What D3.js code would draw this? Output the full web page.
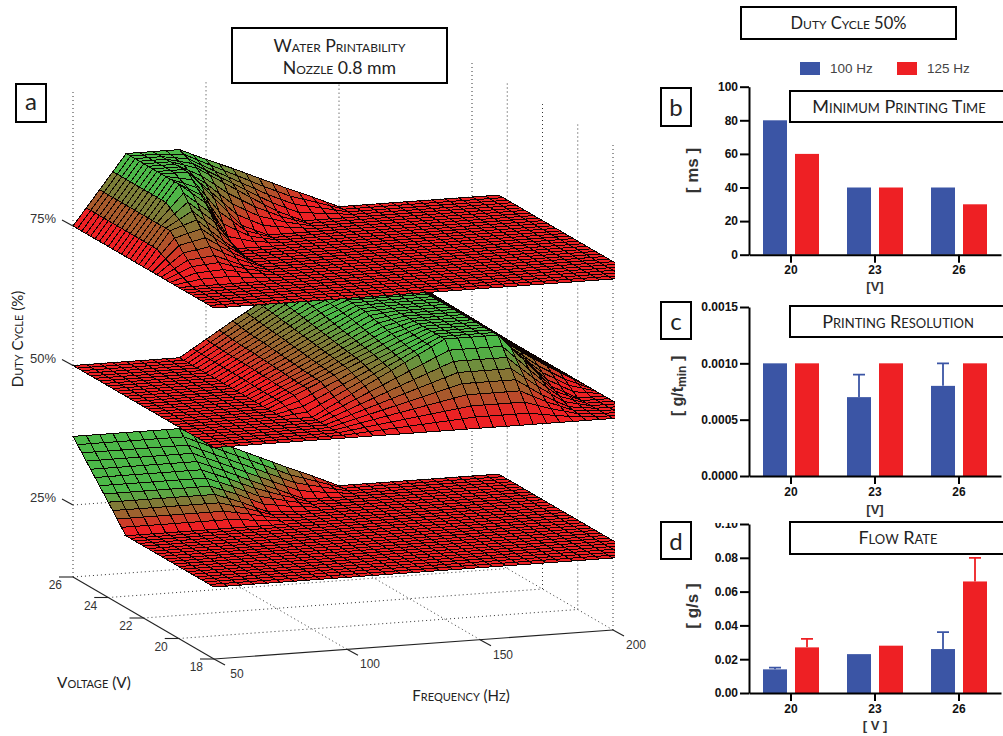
<!DOCTYPE html>
<html lang="en">
<head>
<meta charset="utf-8">
<title>Water Printability</title>
<script src="https://d3js.org/d3.v7.min.js"></script>
<style>
  body { margin: 0; background: #fff; }
  .caps { font-family: Lato, sans-serif; font-variant: small-caps; fill: #222; }
  .num3d { font-family: "Liberation Sans", sans-serif; font-size: 12px; fill: #333; }
  .bar-axis text { font-family: "Liberation Sans", sans-serif; font-size: 12px; font-weight: bold; fill: #111; }
  .unit { font-family: "Liberation Sans", sans-serif; font-weight: bold; fill: #333; }
</style>
</head>
<body>
<div id="vis"></div>
<script>
// surface grid (0 = flat red, 1 = top of the green plateau)
const frequencies = [50,60,70,80,90,100,110,120,130,140,150,160,170,180,190,200,210];
const voltages = [26,25,24,23,22,21,20,19,18];

const surface75 = [
  [0,.5,1,1,1,.83,.67,.5,.33,.17,0,0,0,0,0,0,0],
  [0,.5,1,1,.88,.64,.4,.17,0,0,0,0,0,0,0,0,0],
  [0,.5,1,1,.58,.17,0,0,0,0,0,0,0,0,0,0,0],
  [0,.5,1,.7,0,0,0,0,0,0,0,0,0,0,0,0,0],
  [0,.5,.63,.3,0,0,0,0,0,0,0,0,0,0,0,0,0],
  [0,.22,.26,.1,0,0,0,0,0,0,0,0,0,0,0,0,0],
  [0,0,0,0,0,0,0,0,0,0,0,0,0,0,0,0,0],
  [0,0,0,0,0,0,0,0,0,0,0,0,0,0,0,0,0],
  [0,0,0,0,0,0,0,0,0,0,0,0,0,0,0,0,0]
];
const surface50 = [
  [0,0,0,0,0,.24,.48,.71,.95,1,1,1,1,.8,.53,.27,0],
  [0,0,0,0,0,.22,.44,.67,.89,1,1,1,1,.78,.52,.26,0],
  [0,0,0,0,0,.21,.42,.63,.84,1,1,1,1,.76,.51,.25,0],
  [0,0,0,0,0,.2,.39,.59,.78,.98,1,1,1,.75,.5,.25,0],
  [0,0,0,0,0,.18,.36,.55,.73,.91,1,1,1,.72,.48,.24,0],
  [0,0,0,0,0,.17,.34,.51,.68,.85,1,1,1,.7,.45,.22,0],
  [0,0,0,0,0,0,.2,.4,.6,.8,1,1,1,.6,.2,0,0],
  [0,0,0,0,0,0,.1,.2,.3,.4,.5,.5,.5,.25,.05,0,0],
  [0,0,0,0,0,0,0,0,0,0,0,0,0,0,0,0,0]
];
const surface25 = [
  [1,1,1,1,1,.83,.67,.5,.33,.17,0,0,0,0,0,0,0],
  [.67,.67,.67,.67,.67,.51,.34,.18,.02,0,0,0,0,0,0,0,0],
  [.34,.34,.34,.34,.34,.2,.03,0,0,0,0,0,0,0,0,0,0],
  [0,0,0,0,0,0,0,0,0,0,0,0,0,0,0,0,0],
  [0,0,0,0,0,0,0,0,0,0,0,0,0,0,0,0,0],
  [0,0,0,0,0,0,0,0,0,0,0,0,0,0,0,0,0],
  [0,0,0,0,0,0,0,0,0,0,0,0,0,0,0,0,0],
  [0,0,0,0,0,0,0,0,0,0,0,0,0,0,0,0,0],
  [0,0,0,0,0,0,0,0,0,0,0,0,0,0,0,0,0]
];
const dutyLevels = [25, 50, 75];
const greenAt = [.42, .85, .85];
const plateauHeight = 12.3;

const freqTicks = [50,100,150,200];
const voltTicks = [26,24,22,20,18];

// bar panels
const barVoltages = ["20","23","26"];
const barSeries = ["100 Hz","125 Hz"];
const barColors = ["#3b55a5","#ee2024"];
const timeBlue = [80,40,40], timeRed = [60,40,30];
const resBlue = [.001,.0007,.0008], resRed = [.001,.001,.001];
const resBlueTop = [.001,.0009,.001], resRedTop = [.001,.001,.001];
const flowBlue = [.014,.023,.026], flowRed = [.027,.028,.066];
const flowBlueTop = [.015,.023,.036], flowRedTop = [.032,.028,.08];

const svg = d3.select("#vis").append("svg").attr("width",1003).attr("height",736).style("display","block");

// projection of the 3d box
const xF = d3.scaleLinear([50,200],[0,399]);
const yF = d3.scaleLinear([50,200],[0,-29]);
const xV = d3.scaleLinear([26,18],[73,214]);
const yV = d3.scaleLinear([26,18],[577,659]);
const yZ = d3.scaleLinear([12.1,75],[0,-351]);
const project = (f,v,d) => [xF(f)+xV(v), yF(f)+yV(v)+yZ(d)];
const line3d = (a,b) => "M"+project(...a)+"L"+project(...b);

const fIndex = d3.scaleLinear(frequencies, d3.range(frequencies.length));
const vIndex = d3.scaleLinear(voltages, d3.range(voltages.length));
function sample(table,f,v) {
  const a = fIndex(f), b = vIndex(v);
  const i = Math.min(Math.floor(a), frequencies.length-2), j = Math.min(Math.floor(b), voltages.length-2);
  const s = a-i, t = b-j;
  return (table[j][i]*(1-s)+table[j][i+1]*s)*(1-t) + (table[j+1][i]*(1-s)+table[j+1][i+1]*s)*t;
}

const cellColor = d3.scaleLinear()
  .domain([.18,.44,.73,1])
  .range(["#ee2024","#a85a2c","#7d7d38","#4cb848"])
  .clamp(true);

// dotted box
const grid = svg.append("g").attr("fill","none").attr("stroke","#333").attr("stroke-width",1).attr("stroke-dasharray","1 3");
const topDuty = 99;
const dotted = [];
[50,100,150,200].forEach(f => dotted.push([[f,26,12.1],[f,26,topDuty]]));
[24,22,20,18].forEach(v => dotted.push([[200,v,12.1],[200,v,topDuty]]));
[100,150,200].forEach(f => dotted.push([[f,18,12.1],[f,26,12.1]]));
[26,24,22,20].forEach(v => dotted.push([[50,v,12.1],[200,v,12.1]]));
dutyLevels.forEach(d => { dotted.push([[50,26,d],[200,26,d]]); dotted.push([[200,26,d],[200,18,d]]); });
grid.selectAll("path").data(dotted).enter().append("path").attr("d", d => line3d(d[0],d[1]));

// surfaces, far cells first
svg.append("clipPath").attr("id","cut").append("rect").attr("x",0).attr("y",0).attr("width",615).attr("height",736);
const meshF = d3.range(50,210.01,5);
const meshV = d3.range(18,26.01,.25);
const tables = [surface25, surface50, surface75];
const plots = svg.append("g").attr("clip-path","url(#cut)");
tables.forEach((table,k) => {
  const cells = [];
  for (let j = meshV.length-2; j >= 0; j--) {
    for (let i = meshF.length-2; i >= 0; i--) {
      const corners = [[meshF[i],meshV[j]],[meshF[i+1],meshV[j]],[meshF[i+1],meshV[j+1]],[meshF[i],meshV[j+1]]];
      const zs = corners.map(c => sample(table,c[0],c[1]));
      cells.push({ pts: corners.map((c,n) => project(c[0],c[1],dutyLevels[k]+zs[n]*plateauHeight)), z: d3.mean(zs) });
    }
  }
  plots.append("g").attr("shape-rendering","crispEdges").selectAll("path").data(cells).enter().append("path")
    .attr("d", d => "M"+d.pts.join("L")+"Z")
    .attr("fill", d => cellColor(d.z/greenAt[k]))
    .attr("stroke","#0c0302")
    .attr("stroke-width",1);
});

// 3d axes
const axes = svg.append("g").attr("fill","none").attr("stroke","#222").attr("stroke-width",1.1);
axes.append("path").attr("d", line3d([50,26,12.1],[50,18,12.1]));
axes.append("path").attr("d", line3d([50,18,12.1],[200,18,12.1]));
voltTicks.forEach(v => {
  const p = project(50,v,12.1);
  axes.append("path").attr("d", d3.line()([[p[0]-14,p[1]],p]));
  svg.append("text").attr("class","num3d").attr("x",p[0]-11).attr("y",p[1]+12).attr("text-anchor","end").text(v);
});
freqTicks.forEach(f => {
  const p = project(f,18,12.1);
  axes.append("path").attr("d", d3.line()([p,[p[0]+11,p[1]+6]]));
  svg.append("text").attr("class","num3d").attr("x",p[0]+23).attr("y",p[1]+19).attr("text-anchor","middle").text(f);
});
dutyLevels.forEach(d => {
  const p = project(50,26,d);
  axes.append("path").attr("d", d3.line()([[p[0]-11,p[1]-6],p]));
  svg.append("text").attr("class","num3d").attr("x",p[0]-17).attr("y",p[1]-3).attr("text-anchor","end").style("font-size","13px").text(d+"%");
});
svg.append("text").attr("class","caps").attr("font-size",15).attr("text-anchor","middle")
  .attr("transform","translate(23,339) rotate(-90)").text("Duty Cycle (%)");
svg.append("text").attr("class","caps").attr("font-size",15.3).attr("x",94).attr("y",688).attr("text-anchor","middle").text("Voltage (V)");
svg.append("text").attr("class","caps").attr("font-size",15).attr("x",461).attr("y",701).attr("text-anchor","middle").text("Frequency (Hz)");

// bar panels
function barPanel(blue, red, blueTop, redTop, top, y0, y1, ticks, fmt) {
  const x = d3.scaleBand().domain(barVoltages).range([749,1001]);
  const inner = d3.scaleBand().domain(barSeries).range([14,70]).paddingInner(.25);
  const y = d3.scaleLinear().domain([0,top]).range([y0,y1]);
  const g = svg.append("g");
  barSeries.forEach((s,k) => {
    const vals = k ? red : blue, tops = k ? redTop : blueTop;
    barVoltages.forEach((v,i) => {
      const left = x(v)+inner(s), mid = left+inner.bandwidth()/2;
      if (tops && tops[i] > vals[i]) {
        g.append("path").attr("fill","none").attr("stroke",barColors[k]).attr("stroke-width",1.8)
          .attr("d", "M"+mid+","+y(vals[i])+"V"+y(tops[i])+"M"+(mid-6)+","+y(tops[i])+"H"+(mid+6));
      }
      g.append("rect").attr("x",left).attr("y",y(vals[i])).attr("width",inner.bandwidth())
        .attr("height",y0-y(vals[i])).attr("fill",barColors[k]);
    });
  });
  const left = g.append("g").attr("class","bar-axis").attr("transform","translate(749,0)")
    .call(d3.axisLeft(y).tickValues(ticks).tickFormat(d3.format(fmt)).tickSize(9).tickSizeOuter(0));
  const bottom = g.append("g").attr("class","bar-axis").attr("transform","translate(0,"+y0+")")
    .call(d3.axisBottom(x).tickSize(8).tickSizeOuter(0));
  [left,bottom].forEach(a => a.selectAll("path,line").attr("stroke","#000").attr("stroke-width",2));
  left.selectAll("text").attr("dx",1);
  return g;
}
barPanel(timeBlue,timeRed,null,null,100,254.7,86.7,[0,20,40,60,80,100],"d");
barPanel(resBlue,resRed,resBlueTop,resRedTop,.0015,476,307,[0,.0005,.001,.0015],".4f");
barPanel(flowBlue,flowRed,flowBlueTop,flowRedTop,.1,693,524,[0,.02,.04,.06,.08,.1],".2f");
// the top of the flow rate scale is cut off in the figure
svg.append("rect").attr("x",700).attr("y",512).attr("width",46).attr("height",11).attr("fill","#fff");

const unit = (xp,yp,size) => svg.append("text").attr("class","unit").attr("font-size",size).attr("text-anchor","middle")
  .attr("transform","translate("+xp+","+yp+") rotate(-90)");
unit(698,170.5,17).text("[ ms ]");
const gt = unit(683,386,16);
gt.append("tspan").text("[ g/t");
gt.append("tspan").attr("font-size",12).attr("dy",3).text("min");
gt.append("tspan").attr("dy",-3).text(" ]");
unit(698,606,17).text("[ g/s ]");
[[875,291,"[V]"],[875,514,"[V]"],[875,730,"[ V ]"]].forEach(d => {
  svg.append("text").attr("class","unit").attr("font-size",13).attr("x",d[0]).attr("y",d[1]).attr("text-anchor","middle").text(d[2]);
});

// legend
[[800,830],[897,927]].forEach((d,i) => {
  svg.append("rect").attr("x",d[0]).attr("y",62).attr("width",20).attr("height",13).attr("fill",barColors[i]);
  svg.append("text").attr("x",d[1]).attr("y",73).attr("font-family","Liberation Sans").attr("font-size",13.5).attr("fill","#444").text(barSeries[i]);
});

// label boxes
const boxes = [
  {x:232,y:28,w:215,h:55,lines:[["Water Printability",52],["Nozzle|0.8 mm",74]],size:17.7},
  {x:741,y:7,w:215,h:32,lines:[["Duty Cycle 50%",29]],size:16.5},
  {x:790,y:91,w:215,h:31,lines:[["Minimum Printing Time",113]],size:18,cx:899},
  {x:790,y:306,w:215,h:31,lines:[["Printing Resolution",328]],size:18,cx:898},
  {x:790,y:522,w:215,h:32,lines:[["Flow Rate",544]],size:18,cx:898},
  {x:16,y:84,w:30,h:38,lines:[["a",110]],size:24,plain:true},
  {x:661,y:88,w:30,h:38,lines:[["b",116]],size:24,plain:true},
  {x:661,y:302,w:30,h:37,lines:[["c",330]],size:24,plain:true},
  {x:661,y:522,w:30,h:37,lines:[["d",550]],size:24,plain:true}
];
boxes.forEach(b => {
  svg.append("rect").attr("x",b.x).attr("y",b.y).attr("width",b.w).attr("height",b.h)
    .attr("fill","#fff").attr("stroke","#000").attr("stroke-width",2);
  b.lines.forEach(l => {
    const t = svg.append("text").attr("class","caps").style("font-variant",b.plain?"normal":null)
      .attr("x",b.cx || b.x+b.w/2).attr("y",l[1]).attr("text-anchor","middle").attr("font-size",b.size);
    const parts = l[0].split("|");
    t.append("tspan").text(parts[0]);
    if (parts[1]) t.append("tspan").style("font-variant","normal").text(" "+parts[1]);
  });
});
</script>
</body>
</html>
